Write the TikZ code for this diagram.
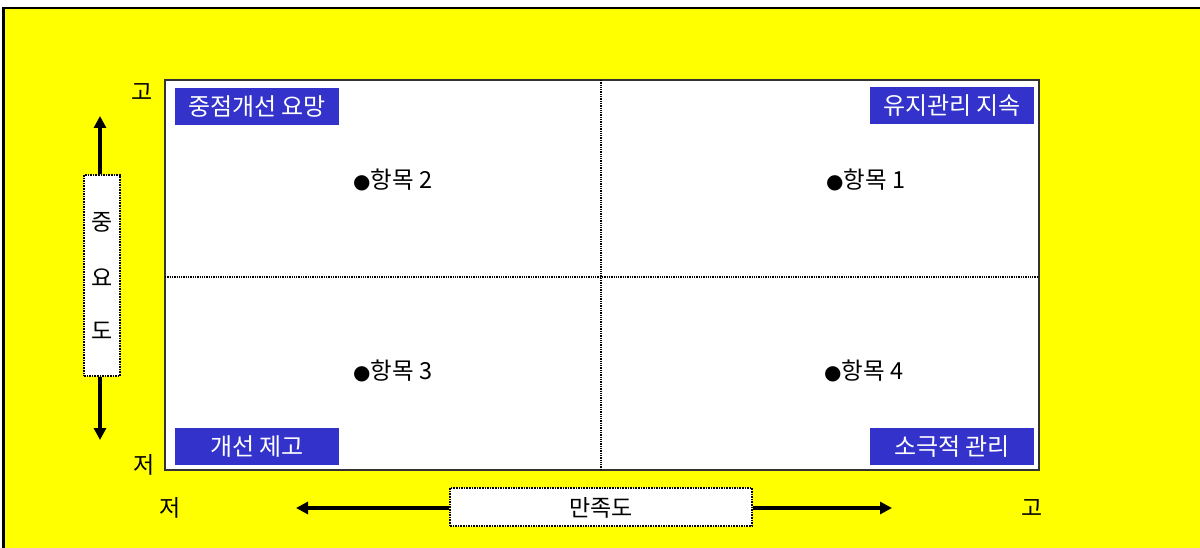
\documentclass[tikz,border=0pt]{standalone}
\usepackage{fontspec}
\setmainfont{Noto Sans CJK KR}
\newfontfamily\bulletfont{DejaVu Sans}
\usetikzlibrary{arrows.meta}
\definecolor{bgyellow}{RGB}{255,255,0}
\definecolor{tagblue}{RGB}{51,51,204}
\tikzset{
  tagbox/.style={fill=tagblue,text=white,minimum width=164pt,minimum height=37pt,inner sep=0pt,font=\fontsize{24}{28}\selectfont},
  item/.style={font=\fontsize{23.5}{27}\selectfont,inner sep=0pt},
  axislbl/.style={font=\fontsize{23}{26}\selectfont,inner sep=0pt},
  axisbox/.style={draw=black,fill=white,densely dotted,line width=1.6pt,inner sep=0pt},
  axisarrow/.style={line width=3.5pt,-{Triangle[length=12pt,width=12pt]}},
  divider/.style={densely dotted,line width=1.3pt},
}
\newcommand{\itembullet}{{\bulletfont\fontsize{20}{22}\selectfont ●}}
\begin{document}
\begin{tikzpicture}[x=1pt,y=-1pt]
\useasboundingbox (0,0) rectangle (1200,548);
\fill[white] (0,0) rectangle (1200,548);
\draw[line width=2.2pt,fill=bgyellow] (3.5,8) rectangle (1205,555);
% main box
\draw[line width=1.3pt,fill=white,draw=black!80] (165,80) rectangle (1039,470);
\coordinate (vt) at (601,80);
\coordinate (vb) at (601,470);
\coordinate (hl) at (165,277);
\coordinate (hr) at (1039,277);
\draw[divider] (vt) -- (vb);
\draw[divider] (hl) -- (hr);
% tags
\node[tagbox] (t1) at (257,106.5) {중점개선 요망};
\node[tagbox] (t2) at (952,105.5) {유지관리 지속};
\node[tagbox] (t3) at (257,446.5) {개선 제고};
\node[tagbox] (t4) at (952,446.5) {소극적 관리};
% items
\node[item,anchor=west] (i2) at (353,179.5) {\itembullet 항목 2};
\node[item,anchor=west] (i1) at (826,179.5) {\itembullet 항목 1};
\node[item,anchor=west] (i3) at (353,370.5) {\itembullet 항목 3};
\node[item,anchor=west] (i4) at (824,370.5) {\itembullet 항목 4};
% axis labels
\node[axislbl] (vhi) at (142,92) {고};
\node[axislbl] (vlo) at (144,465) {저};
\node[axislbl] (hlo) at (170,508) {저};
\node[axislbl] (hhi) at (1032,508) {고};
% vertical axis
\node[axisbox,minimum width=36pt,minimum height=201pt] (vbox) at (102,275.5) {};
\node[axislbl] (v1) at (102,222) {중};
\node[axislbl] (v2) at (102,278) {요};
\node[axislbl] (v3) at (102,331) {도};
\coordinate (vup) at (100,116);
\coordinate (vdn) at (100,440);
\draw[axisarrow] (vbox.north -| vup) -- (vup);
\draw[axisarrow] (vbox.south -| vdn) -- (vdn);
% horizontal axis
\node[axisbox,minimum width=302pt,minimum height=38pt] (hbox) at (601,507) {};
\node[axislbl] (hm) at (601,508) {만족도};
\coordinate (hleft) at (296,508);
\coordinate (hright) at (892,508);
\draw[axisarrow] (hbox.west |- hleft) -- (hleft);
\draw[axisarrow] (hbox.east |- hright) -- (hright);
\end{tikzpicture}
\end{document}
